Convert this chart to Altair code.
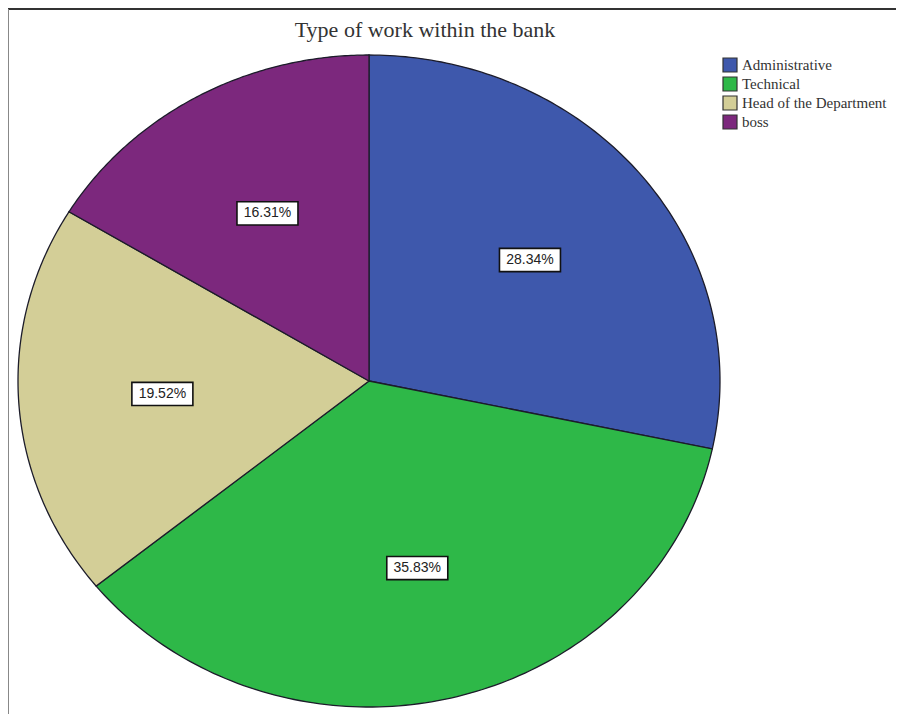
import altair as alt
import pandas as pd

categories = ["Administrative", "Technical", "Head of the Department", "boss"]
percents = [28.34, 35.83, 19.52, 16.31]
colors = ["#3E58AC", "#2EB848", "#D3CE97", "#7C287D"]

df = pd.DataFrame({"category": categories, "percent": percents,
                   "order": list(range(len(categories)))})
frame_df = pd.DataFrame({"a": [0]})

N = 120
W, H = 702, 652
LABEL_R = 0.59

xs = alt.Scale(domain=[-1, 1], nice=False)
ys = alt.Scale(domain=[-1, 1], nice=False)

base = (
    alt.Chart(df)
    .transform_window(cum="sum(percent)", sort=[alt.SortField("order")])
    .transform_joinaggregate(total="sum(percent)")
    .transform_calculate(start="datum.cum - datum.percent")
)

pie = (
    base.transform_calculate(k=f"sequence(0, {N + 2})")
    .transform_flatten(["k"])
    .transform_calculate(
        t=f"clamp((datum.k - 1) / {N}, 0, 1)",
    )
    .transform_calculate(
        ang="2 * PI * (datum.start + datum.percent * datum.t) / datum.total",
    )
    .transform_calculate(
        px="datum.k == 0 ? 0 : sin(datum.ang)",
        py="datum.k == 0 ? 0 : cos(datum.ang)",
    )
    .mark_line(filled=True, stroke="#1c1c2a", strokeWidth=1.3,
               interpolate="linear-closed", opacity=1)
    .encode(
        x=alt.X("px:Q", scale=xs, axis=None),
        y=alt.Y("py:Q", scale=ys, axis=None),
        color=alt.Color(
            "category:N",
            scale=alt.Scale(domain=categories, range=colors),
            legend=alt.Legend(
                title=None, orient="none", legendX=704, legendY=2,
                symbolType="square", symbolSize=196,
                symbolStrokeColor="#333", symbolStrokeWidth=1.2,
                labelFont="Liberation Serif", labelFontSize=15,
                labelColor="#333", rowPadding=-1, labelOffset=4,
            ),
            sort=categories,
        ),
        order=alt.Order("k:Q"),
    )
)

lab = base.transform_calculate(
    mid="2 * PI * (datum.start + datum.percent / 2) / datum.total",
).transform_calculate(
    lx=f"{LABEL_R} * sin(datum.mid)",
    ly=f"{LABEL_R} * cos(datum.mid)",
    txt="format(datum.percent, '.2f') + '%'",
)

box = lab.mark_point(
    shape="M-1,-0.38L1,-0.38L1,0.38L-1,0.38Z", size=3721,
    filled=True, fill="white", stroke="#111", strokeWidth=1.6, opacity=1,
).encode(
    x=alt.X("lx:Q", scale=xs, axis=None),
    y=alt.Y("ly:Q", scale=ys, axis=None),
)

text = lab.mark_text(
    font="Liberation Sans", fontSize=14, color="#222", baseline="middle",
).encode(
    x=alt.X("lx:Q", scale=xs, axis=None),
    y=alt.Y("ly:Q", scale=ys, axis=None),
    text="txt:N",
)

top_line = alt.Chart(frame_df).mark_rule(color="#333", strokeWidth=2).encode(
    x=alt.value(-10), x2=alt.value(W + 190), y=alt.value(-46)
)
left_line = alt.Chart(frame_df).mark_rule(color="#888", strokeWidth=2).encode(
    x=alt.value(-10), y=alt.value(-46), y2=alt.value(H + 7)
)

chart = (
    alt.layer(pie, box, text, top_line, left_line)
    .properties(
        width=W, height=H,
        autosize=alt.AutoSizeParams(type="none"),
        padding={"left": 10, "top": 47, "right": 176, "bottom": 7},
        title=alt.TitleParams(
            "Type of work within the bank", font="Liberation Serif",
            fontSize=22, fontWeight="normal", color="#333",
            anchor="middle", dx=56, offset=-51, baseline="alphabetic",
        ),
    )
    .configure_view(stroke=None)
)

chart.save("out.html", embed_options={"renderer": "svg", "actions": False})
